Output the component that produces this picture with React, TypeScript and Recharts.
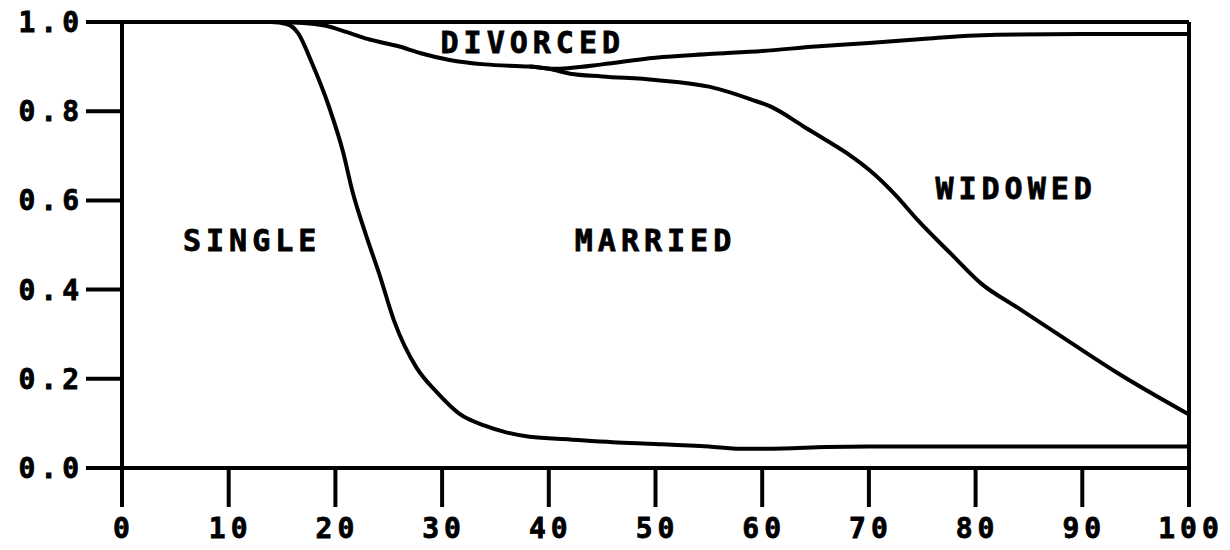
import React from 'react';
import { LineChart, Line, XAxis, YAxis, ReferenceLine, ReferenceDot } from 'recharts';

// Cumulative proportion curves by age
const singleAges = [0, 14, 15.5, 16.5, 17.8, 19.4, 20.7, 21.6, 22.9, 24.1, 25.5, 27.6, 29.5, 31.6, 34, 36, 38.2, 42, 46, 50, 55, 58, 62, 66, 70, 80, 90, 100];
const singleVals = [1.0, 1.0, 0.995, 0.975, 0.908, 0.81, 0.71, 0.62, 0.52, 0.436, 0.33, 0.225, 0.17, 0.122, 0.095, 0.08, 0.07, 0.064, 0.058, 0.054, 0.048, 0.043, 0.044, 0.047, 0.048, 0.048, 0.048, 0.048];

const marriedAges = [38.2, 40, 42, 45, 50, 55, 59, 61, 63.8, 66, 68.3, 70.1, 72.5, 74.6, 77.7, 80.5, 83.9, 88.6, 93.3, 100];
const marriedVals = [0.9, 0.895, 0.884, 0.878, 0.87, 0.855, 0.826, 0.808, 0.767, 0.735, 0.7, 0.667, 0.612, 0.555, 0.48, 0.414, 0.36, 0.286, 0.213, 0.12];

const widowedAges = [0, 14, 17, 19, 21, 23, 26, 28, 30.7, 34, 38.2, 40.5, 42, 45, 50, 55, 60, 65, 70, 75, 80, 90, 100];
const widowedVals = [1.0, 1.0, 0.998, 0.992, 0.978, 0.962, 0.945, 0.93, 0.915, 0.905, 0.9, 0.895, 0.897, 0.905, 0.92, 0.928, 0.935, 0.945, 0.953, 0.962, 0.97, 0.973, 0.973];

const totalAges = [0, 100];
const totalVals = [1.0, 1.0];

const xTicks = [0, 10, 20, 30, 40, 50, 60, 70, 80, 90, 100];
const yTicks = [0, 0.2, 0.4, 0.6, 0.8, 1.0];

const regionLabels = ['SINGLE', 'MARRIED', 'WIDOWED', 'DIVORCED'];
const labelAges = [12.2, 50, 83.8, 38.5];
const labelVals = [0.51, 0.51, 0.626, 0.955];

const toRows = (ages: number[], vals: number[]) => ages.map((a, i) => ({ age: a, v: vals[i] }));

const FONT = "'DejaVu Sans Mono', monospace";
const tickStyle = {
  fill: '#000',
  stroke: '#000',
  strokeWidth: 0.8,
  fontSize: 28,
  fontFamily: FONT,
  fontWeight: 'bold',
  letterSpacing: 5,
} as any;

export default function App() {
  const lineProps = {
    dataKey: 'v',
    stroke: '#000',
    strokeWidth: 4,
    dot: false,
    activeDot: false,
    type: 'monotone' as const,
    isAnimationActive: false,
  };
  return (
    <div style={{ position: 'absolute', left: 0, top: 0, background: '#fff' }}>
      <LineChart width={1230} height={550} margin={{ top: 22, right: 41, bottom: 0, left: 0 }}>
        <XAxis
          type="number"
          dataKey="age"
          domain={[0, 100]}
          ticks={xTicks}
          interval={0}
          height={82}
          tickSize={39}
          tickMargin={11}
          axisLine={{ stroke: '#000', strokeWidth: 4 }}
          tickLine={{ stroke: '#000', strokeWidth: 4 }}
          tick={{ ...tickStyle, dx: 2 }}
          allowDataOverflow
        />
        <YAxis
          type="number"
          domain={[0, 1]}
          ticks={yTicks}
          interval={0}
          width={122}
          tickSize={36}
          tickMargin={2}
          tickFormatter={(v: number) => v.toFixed(1)}
          axisLine={{ stroke: '#000', strokeWidth: 4 }}
          tickLine={{ stroke: '#000', strokeWidth: 4 }}
          tick={tickStyle}
        />
        <ReferenceLine x={100} stroke="#000" strokeWidth={4} />
        <Line {...lineProps} data={toRows(totalAges, totalVals)} />
        <Line {...lineProps} data={toRows(widowedAges, widowedVals)} />
        <Line {...lineProps} data={toRows(marriedAges, marriedVals)} />
        <Line {...lineProps} data={toRows(singleAges, singleVals)} />
        {regionLabels.map((t, i) => (
          <ReferenceDot
            key={t}
            x={labelAges[i]}
            y={labelVals[i]}
            r={0}
            fill="none"
            stroke="none"
            label={{
              value: t,
              position: 'center',
              fill: '#000',
              stroke: '#000',
              strokeWidth: 0.8,
              fontSize: 30,
              fontFamily: FONT,
              fontWeight: 'bold',
              letterSpacing: 5,
            }}
          />
        ))}
      </LineChart>
    </div>
  );
}
